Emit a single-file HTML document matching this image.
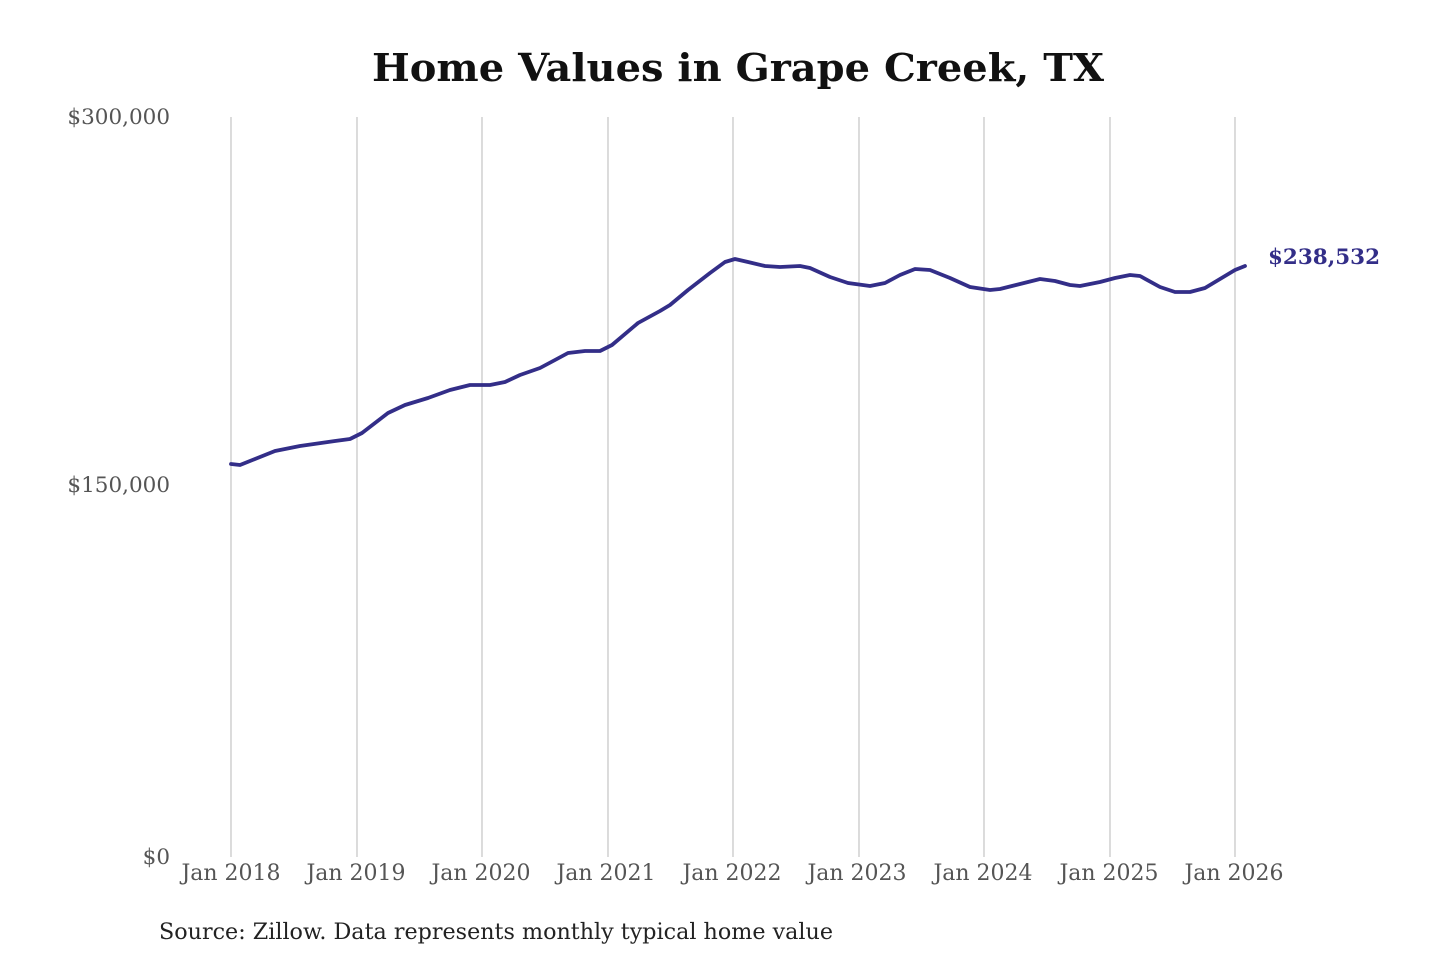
<!DOCTYPE html>
<html><head><meta charset="utf-8"><style>
html,body{margin:0;padding:0;background:#fff;}
svg{display:block;}
</style></head><body>
<svg width="1440" height="960" viewBox="0 0 1440 960" xmlns="http://www.w3.org/2000/svg">
<text x="372" y="81" textLength="732" lengthAdjust="spacingAndGlyphs" font-family="DejaVu Serif, Liberation Serif, serif" font-weight="bold" font-size="38" fill="#111">Home Values in Grape Creek, TX</text>
<g stroke="#c8c8c8" stroke-width="1.3">
<line x1="231" y1="117" x2="231" y2="857"/>
<line x1="357" y1="117" x2="357" y2="857"/>
<line x1="482" y1="117" x2="482" y2="857"/>
<line x1="608" y1="117" x2="608" y2="857"/>
<line x1="733" y1="117" x2="733" y2="857"/>
<line x1="859" y1="117" x2="859" y2="857"/>
<line x1="984" y1="117" x2="984" y2="857"/>
<line x1="1110" y1="117" x2="1110" y2="857"/>
<line x1="1235" y1="117" x2="1235" y2="857"/>
</g>
<g font-family="DejaVu Serif, Liberation Serif, serif" font-size="21.5" fill="#555" text-anchor="end">
<text x="170" y="124">$300,000</text>
<text x="170" y="492">$150,000</text>
<text x="170" y="864">$0</text>
</g>
<g font-family="DejaVu Serif, Liberation Serif, serif" font-size="22" fill="#555" text-anchor="middle">
<text x="231" y="880">Jan 2018</text>
<text x="356" y="880">Jan 2019</text>
<text x="481" y="880">Jan 2020</text>
<text x="606" y="880">Jan 2021</text>
<text x="732" y="880">Jan 2022</text>
<text x="857" y="880">Jan 2023</text>
<text x="983" y="880">Jan 2024</text>
<text x="1109" y="880">Jan 2025</text>
<text x="1234" y="880">Jan 2026</text>
</g>
<polyline fill="none" stroke="#332e88" stroke-width="3.8" stroke-linejoin="round" stroke-linecap="round" points="231,464 240,465 255,459 275,451 300,446 335,441 350,439 362,433 388,413 405,405 428,398 450,390 470,385 490,385 505,382 520,375 540,368 555,360 568,353 585,351 600,351 612,345 638,323 660,311 670,305 688,290 710,273 725,262 735,259 748,262 765,266 780,267 800,266 810,268 830,277 848,283 870,286 885,283 900,275 915,269 930,270 950,278 970,287 990,290 1000,289 1020,284 1040,279 1055,281 1070,285 1080,286 1100,282 1115,278 1130,275 1140,276 1160,287 1175,292 1190,292 1205,288 1220,279 1235,270 1245,266"/>
<text x="1268" y="264" textLength="112" lengthAdjust="spacingAndGlyphs" font-family="DejaVu Serif, Liberation Serif, serif" font-weight="bold" font-size="21.5" fill="#332e88">$238,532</text>
<text x="159" y="939" textLength="674" lengthAdjust="spacingAndGlyphs" font-family="DejaVu Serif, Liberation Serif, serif" font-size="22" fill="#222">Source: Zillow. Data represents monthly typical home value</text>
</svg>
</body></html>
